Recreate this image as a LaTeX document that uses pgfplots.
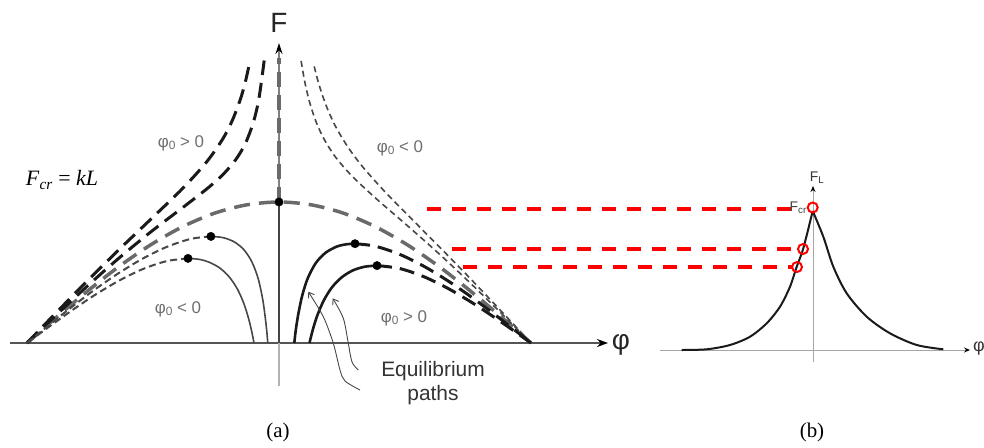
\documentclass[border=0pt]{standalone}
\usepackage{pgfplots}
\pgfplotsset{compat=1.18}
\usetikzlibrary{arrows.meta}
\usepackage{fontspec}
\setmainfont{Liberation Serif}
\newfontfamily\arial{Liberation Sans}

\definecolor{axisgray}{HTML}{555555}
\definecolor{pathgray}{HTML}{6A6A6A}
\definecolor{thingray}{HTML}{474747}
\definecolor{labelgray}{HTML}{6E6E6E}
\definecolor{ink}{HTML}{1A1A1A}

\begin{document}
\begin{tikzpicture}
\begin{axis}[
  name=pix,
  width=984bp, height=448bp, scale only axis,
  xmin=0, xmax=984, ymin=0, ymax=448, y dir=reverse,
  hide axis, clip=false,
]
% ---------------- panel (a): axes ----------------
\addplot[axisgray, line width=2bp, -{Stealth[length=11bp,width=8bp,color=black]}]
  coordinates {(10,343) (608,343)};
\addplot[gray!60, line width=1.2bp] coordinates {(279,386) (279,343)};
\addplot[gray, line width=1.2bp, -{Stealth[length=11bp,width=7bp,color=black]}]
  coordinates {(279,202) (279,43)};
% trivial stable path (F < Fcr)
\addplot[axisgray!80!black, line width=2.4bp] coordinates {(279,343) (279,202)};
% trivial unstable path (F > Fcr)
\addplot[pathgray, line width=3.5bp, dash pattern=on 15bp off 8bp]
  coordinates {(279,202) (279,58)};

% perfect system: F = Fcr cos(phi)
\addplot[pathgray, line width=3.5bp, dash pattern=on 16bp off 9bp, smooth]
  coordinates {(27,343) (54.4,319.0) (86.5,291.9) (118.6,266.8) (150.7,244.8)
  (182.8,226.6) (214.8,213.1) (246.9,204.8) (279,202) (311.1,204.8) (343.2,213.1)
  (375.2,226.6) (407.3,244.8) (439.4,266.8) (471.5,291.9) (503.6,319.0) (531,343)};

% phi0 > 0, branches with phi < 0 (thick dashed)
\addplot[ink, line width=3bp, dash pattern=on 15bp off 8bp, smooth]
  coordinates {(27,343) (54.4,314.5) (86.5,281.7) (118.6,250.0) (150.7,219.3)
  (182.8,188.3) (206.8,161.7) (222.9,138.7) (232.5,120.0) (240.5,98.9)
  (245.3,82.1) (249.8,61.8)};
\addplot[ink, line width=3bp, dash pattern=on 15bp off 8bp, smooth]
  coordinates {(27,343) (54.4,316.8) (86.5,286.8) (118.6,258.4) (150.7,232.0)
  (182.8,207.5) (206.8,188.9) (222.9,174.6) (235.7,159.7) (245.3,143.6)
  (253.3,122.5) (258.9,98.7) (264.2,60.5)};

% phi0 < 0, branches with phi > 0 (thin dashed)
\addplot[thingray, line width=1.6bp, dash pattern=on 6bp off 4bp, smooth]
  coordinates {(301.1,60.9) (304.7,81.5) (309.5,101.9) (315.9,121.4) (323.9,138.8)
  (335.1,156.5) (351.2,175.2) (375.2,197.8) (407.3,225.6) (439.4,254.1)
  (471.5,284.2) (503.6,315.6) (531,343)};
\addplot[thingray, line width=1.6bp, dash pattern=on 6bp off 4bp, smooth]
  coordinates {(314.2,66.4) (317.5,79.3) (322.3,95.0) (328.7,111.9) (336.7,128.6)
  (348.0,147.2) (362.4,166.5) (383.3,190.0) (407.3,214.6) (439.4,246.9)
  (471.5,279.8) (503.6,313.7) (531,343)};

% phi0 < 0, branches with phi < 0: stable part (solid) and unstable part (dashed)
\addplot[thingray, line width=1.6bp, smooth]
  coordinates {(267.8,343) (266.2,325.6) (263.0,301.1) (258.2,278.7) (251.7,261.5)
  (243.7,249.5) (234.1,241.8) (222.9,237.6) (210.9,236.4)};
\addplot[thingray, line width=2bp, dash pattern=on 7bp off 4bp, smooth]
  coordinates {(210.9,236.4) (190.8,238.9) (166.7,246.9) (142.7,258.6) (118.6,273.2)
  (94.5,289.8) (70.5,308.0) (46.4,327.2) (27,343)};
\addplot[thingray, line width=1.6bp, smooth]
  coordinates {(254.0,343) (251.7,331.4) (248.5,318.2) (243.7,303.1) (237.3,288.9)
  (229.3,277.0) (219.7,267.9) (208.4,261.9) (198.8,259.3) (188.0,258.4)};
\addplot[thingray, line width=2bp, dash pattern=on 7bp off 4bp, smooth]
  coordinates {(188.0,258.4) (166.7,261.1) (142.7,269.1) (118.6,280.9) (94.5,295.2)
  (70.5,311.4) (46.4,328.7) (27,343)};

% phi0 > 0, branches with phi > 0: stable part (solid) and unstable part (dashed)
\addplot[ink, line width=2.6bp, smooth]
  coordinates {(294.3,343) (295.8,329.9) (298.3,314.1) (302.3,295.2) (307.9,277.9)
  (315.9,262.9) (325.5,252.8) (336.7,246.6) (346.4,244.3) (355.0,243.7)};
\addplot[ink, line width=3bp, dash pattern=on 15bp off 8bp, smooth]
  coordinates {(355.0,243.7) (375.2,246.2) (399.3,254.2) (423.4,266.0) (447.4,280.5)
  (471.5,297.1) (495.5,315.1) (516.4,331.4) (531,343)};
\addplot[ink, line width=2.6bp, smooth]
  coordinates {(309.5,343) (311.1,336.3) (313.5,327.3) (317.5,314.9) (323.9,300.2)
  (331.9,287.4) (341.6,277.4) (352.8,270.4) (364.8,266.7) (377.0,265.6)};
\addplot[ink, line width=3bp, dash pattern=on 15bp off 8bp, smooth]
  coordinates {(377.0,265.6) (399.3,268.4) (423.4,276.5) (447.4,288.1) (471.5,302.3)
  (495.5,318.1) (516.4,332.6) (531,343)};

% limit points
\addplot[only marks, mark=*, mark size=4.2bp, black]
  coordinates {(279,202) (210.9,236.4) (188.0,258.4) (355.0,243.7) (377.0,265.6)};

% pointers to the equilibrium paths
\addplot[thingray, line width=0.9bp, smooth, -{Straight Barb[length=5bp,width=7bp]}]
  coordinates {(360,390) (345,381) (340,370) (333.3,343.3) (323.3,316.7) (308.3,291.7)};
\addplot[thingray, line width=0.9bp, smooth, -{Straight Barb[length=5bp,width=7bp]}]
  coordinates {(358.3,370) (352,362) (348.3,343.3) (343.3,318.3) (332.7,298.3)};

% labels of panel (a)
\node[font=\arial\fontsize{28}{30}\selectfont, text=black!85] at (279,23) {F};
\node[font=\arial\fontsize{28}{30}\selectfont, text=black!85] at (621,345) {φ};
\node[font=\arial\fontsize{17}{20}\selectfont, text=labelgray] at (181,143) {φ\raisebox{-0.3ex}{\fontsize{12}{12}\selectfont 0} > 0};
\node[font=\arial\fontsize{17}{20}\selectfont, text=labelgray] at (400,148) {φ\raisebox{-0.3ex}{\fontsize{12}{12}\selectfont 0} < 0};
\node[font=\arial\fontsize{17}{20}\selectfont, text=labelgray] at (178,309) {φ\raisebox{-0.3ex}{\fontsize{12}{12}\selectfont 0} < 0};
\node[font=\arial\fontsize{17}{20}\selectfont, text=labelgray] at (404,318) {φ\raisebox{-0.3ex}{\fontsize{12}{12}\selectfont 0} > 0};
\node[font=\fontsize{22}{26}\selectfont] at (62,180) {\textit{F}\textsubscript{\textit{cr}} = \textit{kL}};
\node[font=\arial\fontsize{21}{25}\selectfont, text=black!80, align=center] at (433,383)
  {Equilibrium\\[-1pt]paths};
\node[font=\fontsize{21}{24}\selectfont] at (278,432) {(a)};
\node[font=\fontsize{21}{24}\selectfont] at (812,432) {(b)};

% ---------------- load levels carried over to panel (b) ----------------
\addplot[red, line width=4bp, dash pattern=on 14bp off 11bp]
  coordinates {(427,209) (794,209)};
\addplot[red, line width=4bp, dash pattern=on 14bp off 11bp]
  coordinates {(452,249) (798,249)};
\addplot[red, line width=4bp, dash pattern=on 14bp off 11bp]
  coordinates {(463,267) (792,267)};

% ---------------- panel (b): limit load vs imperfection ----------------
\addplot[gray!70, line width=1bp, -{Stealth[length=6bp,width=5bp,color=black]}]
  coordinates {(660,350) (970,350)};
\addplot[gray!70, line width=1bp, -{Stealth[length=6bp,width=5bp,color=black]}]
  coordinates {(813,362) (813,186)};
\addplot[ink, line width=2bp, smooth]
  coordinates {(681.7,350) (706.7,349.3) (730,345) (750,336.7) (766.7,323.3)
  (780,306.7) (790,286.7) (796.7,266.7) (803.3,248.3) (812.7,211)};
\addplot[ink, line width=2bp, smooth]
  coordinates {(812.7,211) (823.3,236.7) (833.3,266.7) (846.7,293.3) (866.7,316.7)
  (890,333.3) (916.7,345) (943.3,349.3)};
\addplot[only marks, mark=o, mark size=5bp, red, mark options={line width=2bp}]
  coordinates {(812.7,207.5) (803,249) (797,267)};

\node[font=\arial\fontsize{14}{16}\selectfont, text=black!80] at (817,178) {F\textsubscript{L}};
\node[font=\arial\fontsize{14}{16}\selectfont, text=black!75, anchor=east, inner sep=0pt] at (807,208) {F\textsubscript{cr}};
\node[font=\arial\fontsize{18}{20}\selectfont, text=black!80, anchor=west, inner sep=0pt] at (973,349) {φ};
\end{axis}
\pgfresetboundingbox
\path[use as bounding box] (pix.south west) rectangle (pix.north east);
\end{tikzpicture}
\end{document}
